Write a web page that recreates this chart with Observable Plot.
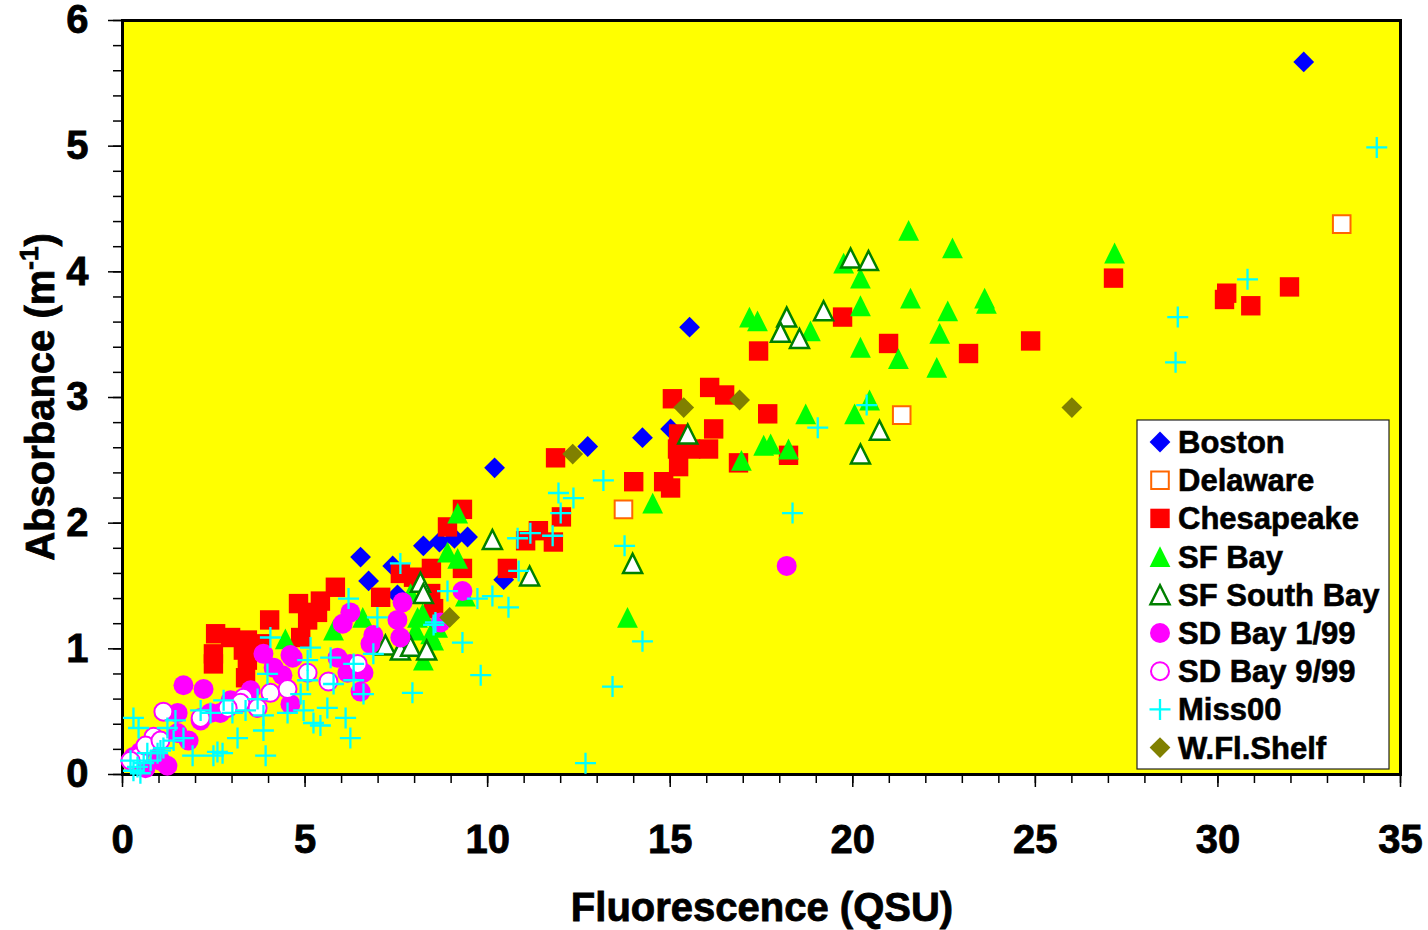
<!DOCTYPE html>
<html><head><meta charset="utf-8">
<script src="https://cdn.jsdelivr.net/npm/d3@7"></script>
<script src="https://cdn.jsdelivr.net/npm/@observablehq/plot@0.6"></script>
<style>body{margin:0;background:#fff;} #chart{position:relative;width:1428px;height:930px;}</style>
</head><body><div id="chart"></div>
<script>
// ---------- data (Fluorescence QSU, Absorbance m^-1) ----------
const seriesNames = ["Boston","Delaware","Chesapeake","SF Bay","SF South Bay","SD Bay 1/99","SD Bay 9/99","Miss00","W.Fl.Shelf"];
const xTicks = [0,5,10,15,20,25,30,35];
const yTicks = [0,1,2,3,4,5,6];
const xTitle = "Fluorescence (QSU)";
const yTitle = "Absorbance (m";

const boston = [[6.52,1.73],[6.74,1.54],[7.40,1.66],[7.53,1.43],[8.24,1.82],[8.68,1.85],[9.09,1.88],[9.45,1.89],[10.44,1.55],[10.19,2.44],[12.74,2.61],[14.24,2.68],[15.01,2.75],[15.53,3.56],[32.35,5.67]];
const delaware = [[13.72,2.11],[21.34,2.86],[33.39,4.38]];
const chesapeake = [
[24.87,3.45],[27.14,3.95],[30.24,3.83],[30.18,3.78],[30.90,3.73],[31.96,3.88],
[19.72,3.64],[17.42,3.37],[20.98,3.43],[23.17,3.35],
[16.08,3.08],[16.49,3.02],[17.67,2.87],[16.19,2.75],[16.05,2.59],[18.24,2.54],[16.87,2.48],
[15.06,2.99],[15.23,2.71],[15.20,2.59],[15.56,2.59],[15.23,2.45],[14.00,2.33],[14.82,2.33],[15.01,2.28],
[11.86,2.52],[12.02,2.05],[11.80,1.85],[11.39,1.94],[11.04,1.86],[10.54,1.64],
[9.31,2.11],[8.90,1.97],[8.46,1.64],[7.97,1.57],[9.31,1.64],[7.61,1.60],[7.07,1.41],[8.52,1.32],[8.44,1.44],
[5.83,1.49],[5.42,1.38],[4.82,1.36],[5.34,1.29],[5.07,1.23],[4.03,1.23],[3.42,1.07],[2.96,1.09],[2.55,1.12],
[2.49,0.96],[2.49,0.88],[3.42,0.91],[3.31,0.99],[3.78,1.04],[4.88,1.09],[3.37,0.77]];
const sfBay = [
[21.53,4.33],[22.73,4.19],[19.75,4.07],[20.21,3.95],[21.58,3.79],[23.61,3.79],[23.66,3.75],[20.21,3.73],[22.60,3.69],
[17.17,3.64],[17.39,3.61],[18.84,3.53],[22.38,3.51],[20.21,3.40],[21.25,3.31],[22.30,3.24],
[18.71,2.87],[20.05,2.87],[20.46,2.98],[17.56,2.62],[17.75,2.63],[18.24,2.59],[16.95,2.50],[27.17,4.15],[14.52,2.16],[13.83,1.25],
[9.18,2.08],[8.90,1.77],[9.18,1.72],[9.39,1.42],[8.08,1.25],[8.22,1.28],[8.03,1.15],[8.44,1.12],[8.24,0.91],[8.52,1.07],
[8.63,1.17],[7.89,1.44],[6.58,1.25],[5.78,1.15],[4.46,1.08]];
const sfSouthBay = [[19.94,4.11],[20.43,4.09],[18.19,3.64],[19.20,3.69],[18.02,3.52],[18.54,3.47],[20.73,2.74],[20.21,2.55],[15.48,2.71],[13.97,1.68],[10.13,1.87],[11.15,1.58],[8.16,1.53],[8.24,1.44],[7.20,1.03],[7.61,0.99],[7.89,1.02],[8.33,0.99]];
const sdBay199 = [[18.19,1.66],[9.31,1.46],[7.67,1.37],[7.53,1.23],[7.61,1.09],[6.87,1.11],[6.79,1.04],[6.24,1.29],[6.03,1.20],[6.60,0.81],[6.52,0.66],
[4.66,0.93],[4.60,0.56],[5.89,0.93],[6.24,0.88],[8.71,1.21],[1.67,0.71],[2.22,0.68],[3.86,0.96],[4.60,0.95],[4.14,0.85],[4.38,0.79],[6.16,0.81],
[3.51,0.67],[2.14,0.43],[2.41,0.49],[1.51,0.49],[1.51,0.33],[1.81,0.27],[1.23,0.07],[0.77,0.23],[0.49,0.18],[0.30,0.14],[0.63,0.05],[1.04,0.11],[2.96,0.59],[2.68,0.49]];
const sdBay999 = [[1.12,0.50],[3.31,0.61],[3.23,0.57],[4.05,0.65],[4.52,0.68],[3.70,0.53],[2.88,0.53],[5.64,0.74],[6.44,0.88],[5.07,0.81],[0.85,0.30],[0.44,0.14],[0.22,0.11],[2.14,0.45],[0.63,0.23],[1.04,0.27]];
const miss00 = [
[34.35,4.99],[30.81,3.94],[28.90,3.64],[28.84,3.28],[19.04,2.76],[20.38,2.94],[18.35,2.08],[14.24,1.06],[13.42,0.70],[12.68,0.09],[13.75,1.82],[13.17,2.34],[11.94,2.24],[12.35,2.20],
[9.81,0.79],[9.31,1.05],[7.94,0.65],[10.57,1.33],[10.13,1.42],[9.72,1.40],[8.90,1.46],[8.57,1.21],[10.85,1.62],[10.82,1.88],[11.17,1.92],[11.78,1.90],[12.00,2.08],[7.61,1.68],[6.19,1.40],[6.98,1.25],[4.05,1.09],[8.52,1.19],
[6.60,0.64],[6.33,0.88],[6.11,0.45],[6.24,0.29],[5.23,0.41],[5.42,0.39],[4.96,0.51],[3.92,0.15],[3.15,0.29],[3.86,0.35],[2.60,0.18],[2.49,0.15],[2.74,0.17],[1.92,0.15],[0.30,0.45],[0.44,0.37],
[4.52,0.49],[3.86,0.47],[3.37,0.51],[3.01,0.49],[2.77,0.59],[2.41,0.49],[2.14,0.51],[1.45,0.43],[1.23,0.37],[1.67,0.29],[1.40,0.27],[1.12,0.21],[0.96,0.17],[0.77,0.11],[0.58,0.09],[0.41,0.06],[0.30,0.03],[0.49,0.01],[0.22,0.11],[0.68,0.17],[1.04,0.19],
[4.88,0.64],[5.07,0.75],[5.15,1.01],[5.07,0.91],[5.70,0.93],[5.78,0.72],[5.61,0.53],[6.87,0.96],[6.33,0.75],[3.97,0.80],[3.70,0.60]];
const wFlShelf = [[8.96,1.25],[12.33,2.55],[15.37,2.92],[16.90,2.98],[26.00,2.92]];

// ---------- symbols ----------
const rad = s => Math.sqrt(s/Math.PI);
const symDiamond = {draw(c,s){const r=rad(s);c.moveTo(0,-r);c.lineTo(r,0);c.lineTo(0,r);c.lineTo(-r,0);c.closePath();}};
const symSquare = {draw(c,s){const r=rad(s);c.moveTo(-r,-r);c.lineTo(r,-r);c.lineTo(r,r);c.lineTo(-r,r);c.closePath();}};
const symTriangle = {draw(c,s){const r=rad(s);c.moveTo(0,-r);c.lineTo(r,r);c.lineTo(-r,r);c.closePath();}};
const symCircle = {draw(c,s){const r=rad(s);c.moveTo(r,0);c.arc(0,0,r,0,2*Math.PI);}};
const symPlus = {draw(c,s){const r=rad(s);c.moveTo(-r,0);c.lineTo(r,0);c.moveTo(0,-r);c.lineTo(0,r);}};

const styles = [
  {data: boston, symbol: symDiamond, r: 10.4, fill: "#0000FF", stroke: "none"},
  {data: delaware, symbol: symSquare, r: 8.8, fill: "#FFFFFF", stroke: "#FF6600", strokeWidth: 2},
  {data: chesapeake, symbol: symSquare, r: 9.7, fill: "#FF0000", stroke: "none"},
  {data: sfBay, symbol: symTriangle, r: 10.4, fill: "#00FF00", stroke: "none"},
  {data: sfSouthBay, symbol: symTriangle, r: 9.5, fill: "#FFFFFF", stroke: "#008000", strokeWidth: 2.5},
  {data: sdBay199, symbol: symCircle, r: 10, fill: "#FF00FF", stroke: "none"},
  {data: sdBay999, symbol: symCircle, r: 9, fill: "#FFFFFF", stroke: "#FF00FF", strokeWidth: 2},
  {data: miss00, symbol: symPlus, r: 10.5, fill: "none", stroke: "#00FFFF", strokeWidth: 2.3},
  {data: wFlShelf, symbol: symDiamond, r: 10.4, fill: "#808000", stroke: "none"}
];

const font = "'Liberation Sans', Arial, Helvetica, sans-serif";
const dotMarks = styles.map(s => Plot.dot(s.data, {x: d => d[0], y: d => d[1], symbol: s.symbol, r: s.r, fill: s.fill, stroke: s.stroke, strokeWidth: s.strokeWidth || 1}));

const chart = Plot.plot({
  width: 1428, height: 930,
  marginLeft: 122, marginRight: 28, marginTop: 20, marginBottom: 156,
  x: {domain: [0, 35]},
  y: {domain: [0, 6]},
  style: {fontFamily: font, fontSize: "40px", fontWeight: "bold", color: "black", background: "white", overflow: "visible"},
  marks: [
    Plot.frame({fill: "#FFFF00"}),
    Plot.axisX({ticks: d3.range(0, 36, 1), tickSize: 9, text: null, strokeWidth: 1.5, label: null}),
    Plot.axisX({ticks: xTicks, tickSize: 13, tickPadding: 37, tickFormat: d3.format("d"), strokeWidth: 1.5, label: null, fontSize: 40}),
    Plot.axisY({ticks: d3.range(0, 6.001, 0.2), tickSize: 9, text: null, strokeWidth: 1.5, label: null}),
    Plot.axisY({ticks: yTicks, tickSize: 14, tickPadding: 20, tickFormat: d3.format("d"), strokeWidth: 1.5, label: null, fontSize: 40}),
    Plot.frame({stroke: "black", strokeWidth: 3}),
    ...dotMarks
  ]
});
document.getElementById("chart").appendChild(chart);

const svg = d3.select(chart);
// heavier tick labels like the reference
svg.selectAll("g[aria-label='x-axis tick label'] text, g[aria-label='y-axis tick label'] text")
  .attr("stroke", "black").attr("stroke-width", 0.8);
// axis titles
svg.append("text").attr("x", 762).attr("y", 921).attr("text-anchor", "middle")
  .attr("font-family", font).attr("font-weight", "bold").attr("font-size", 40).attr("fill", "black")
  .attr("stroke", "black").attr("stroke-width", 0.8).text(xTitle);
const yt = svg.append("text").attr("transform", "translate(54,397) rotate(-90)").attr("text-anchor", "middle")
  .attr("font-family", font).attr("font-weight", "bold").attr("font-size", 40).attr("fill", "black")
  .attr("stroke", "black").attr("stroke-width", 0.8);
yt.append("tspan").text(yTitle);
yt.append("tspan").attr("font-size", 26).attr("dy", -16).text("-1");
yt.append("tspan").attr("dy", 16).text(")");

// legend
const lg = svg.append("g");
lg.append("rect").attr("x", 1137).attr("y", 420).attr("width", 252).attr("height", 349)
  .attr("fill", "white").attr("stroke", "#222").attr("stroke-width", 1.2);
styles.forEach((s, i) => {
  const cy = 442 + i * 38.2;
  lg.append("path").attr("transform", `translate(1160,${cy})`)
    .attr("d", d3.symbol(s.symbol, Math.PI * s.r * s.r)())
    .attr("fill", s.fill).attr("stroke", s.stroke).attr("stroke-width", s.strokeWidth || 1);
  lg.append("text").attr("x", 1178).attr("y", cy + 11).attr("text-anchor", "start").attr("font-family", font).attr("font-weight", "bold")
    .attr("font-size", 31).attr("fill", "black").attr("stroke", "black").attr("stroke-width", 0.6).text(seriesNames[i]);
});
</script></body></html>
